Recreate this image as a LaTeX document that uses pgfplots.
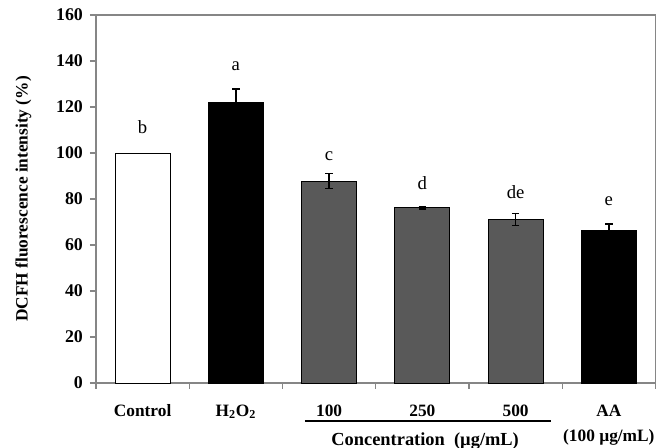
\documentclass[border=0pt]{standalone}
\usepackage{fontspec}
\setmainfont{Liberation Serif}
\usepackage{pgfplots}
\pgfplotsset{compat=1.18}
\definecolor{axgray}{RGB}{134,134,134}
\definecolor{bargray}{RGB}{89,89,89}
\pgfplotsset{myerr/.style={error bars/.cd, y dir=both, y explicit,
  error bar style={black, line width=1pt},
  error mark options={black, line width=1pt, mark size=2.8pt, rotate=90}}}
\begin{document}
\begin{tikzpicture}[x=1pt,y=1pt]
\useasboundingbox (0,0) rectangle (503.25,336);
\begin{axis}[
  at={(72pt,48.75pt)}, anchor=south west,
  scale only axis, width=419.6pt, height=276pt,
  xmin=-0.5, xmax=5.5, ymin=0, ymax=160,
  clip=false,
  ytick={0,20,...,160},
  xtick={0,...,5},
  xticklabels={Control, H\textsubscript{2}O\textsubscript{2}, 100, 250, 500, {AA\\(100 µg/mL)}},
  minor xtick={-0.5,0.5,...,5.5},
  major x tick style={draw=none},
  tick pos=left,
  minor tick length=4.5pt,
  major tick length=4.5pt,
  tick align=outside,
  axis line style={axgray, line width=0.8pt},
  every tick/.style={axgray, line width=0.8pt},
  x tick label style={font=\fontsize{13}{18.75}\selectfont\bfseries, align=center, yshift=-8.3pt},
  y tick label style={font=\fontsize{13.4}{15}\selectfont\bfseries, xshift=-1.8pt},
  /pgf/number format/assume math mode=true,
  ylabel={DCFH fluorescence intensity (\%)},
  every axis y label/.style={at={(rel axis cs:0,0.5)}, xshift=-54.4pt, rotate=90, anchor=center, font=\fontsize{13}{15}\selectfont\bfseries},
  ybar, bar width=41.25pt,
  every axis plot/.append style={bar shift=0pt, draw=black, line width=0.6pt},
]
\addplot[fill=white] coordinates {(0,100)};
\addplot[fill=black, myerr] coordinates {(1,121.8) +- (0,6.0) (5,66.3) +- (0,2.8)};
\addplot[fill=bargray, myerr] coordinates {(2,87.8) +- (0,3.3) (3,76.2) +- (0,0.5) (4,71.2) +- (0,2.6)};
\begin{scope}[every node/.style={font=\fontsize{14}{16}\selectfont}]
\node at (axis cs:0,111.4) {b};
\node at (axis cs:1,137.6) {a};
\node at (axis cs:2,98.8) {c};
\node at (axis cs:3,87) {d};
\node at (axis cs:4,83) {de};
\node at (axis cs:5,79) {e};
\end{scope}
\draw[black, line width=0.8pt] ([yshift=-28.5pt]axis cs:1.74,0) -- ([yshift=-28.5pt]axis cs:4.38,0);
\node[font=\fontsize{13.8}{15}\selectfont\bfseries] at ([yshift=-43.5pt]axis cs:3.03,0) {Concentration~~(µg/mL)};
\end{axis}
\end{tikzpicture}
\end{document}
